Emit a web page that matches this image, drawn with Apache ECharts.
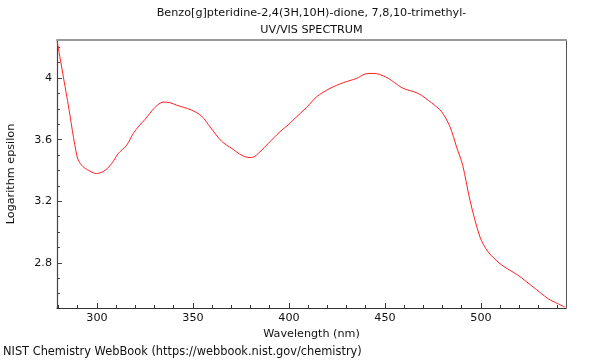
<!DOCTYPE html>
<html><head><meta charset="utf-8">
<script src="https://cdn.jsdelivr.net/npm/echarts@6/dist/echarts.min.js"></script>
<style>html,body{margin:0;padding:0;background:#fff}#c{width:600px;height:360px}</style>
</head><body><div id="c"></div>
<script>
const titleLines = ["Benzo[g]pteridine-2,4(3H,10H)-dione, 7,8,10-trimethyl-", "UV/VIS SPECTRUM"];
const xName = "Wavelength (nm)";
const yName = "Logarithm epsilon";
const footer = "NIST Chemistry WebBook (https://webbook.nist.gov/chemistry)";
const xMajorTicks = [300, 350, 400, 450, 500];
const xMinorTicks = [280, 290, 300, 310, 320, 330, 340, 350, 360, 370, 380, 390, 400, 410, 420, 430, 440, 450, 460, 470, 480, 490, 500, 510, 520, 530, 540];
const yMajorTicks = [2.8, 3.2, 3.6, 4];
const yMinorTicks = [2.6, 2.7, 2.8, 2.9, 3.0, 3.1, 3.2, 3.3, 3.4, 3.5, 3.6, 3.7, 3.8, 3.9, 4.0, 4.1, 4.2];
const wavelength = [279.3, 285, 289.7, 292, 295, 299.8, 304.2, 308, 311.1, 315.5, 318.9, 322, 325, 330.2, 334.5, 338, 341.5, 345, 349.3, 354.5, 358.9, 364.9, 370.2, 375.4, 379.2, 381.5, 384.9, 389.2, 395.3, 400, 403.1, 409.2, 414.4, 421.4, 428.3, 435.3, 439.6, 443.9, 447, 451.7, 455, 459.5, 467.3, 474.3, 479.5, 483.9, 487.3, 490.5, 494.3, 499.5, 503.8, 509.9, 514, 519.4, 527.2, 535.1, 540, 543.8];
const logEps = [4.236, 3.83, 3.488, 3.434, 3.405, 3.38, 3.40, 3.45, 3.51, 3.564, 3.64, 3.69, 3.731, 3.809, 3.844, 3.84, 3.824, 3.81, 3.792, 3.753, 3.683, 3.59, 3.543, 3.499, 3.484, 3.487, 3.521, 3.575, 3.651, 3.70, 3.738, 3.809, 3.878, 3.933, 3.970, 3.998, 4.026, 4.030, 4.025, 3.998, 3.97, 3.933, 3.900, 3.839, 3.781, 3.683, 3.553, 3.434, 3.206, 2.968, 2.870, 2.795, 2.76, 2.719, 2.643, 2.567, 2.535, 2.513];

const X_MIN = 279.2, X_MAX = 544.3, Y_MIN = 2.507, Y_MAX = 4.247;
const FONT = 'DejaVu Sans';
const FS = 11.2;
const chart = echarts.init(document.getElementById('c'), null, {renderer: 'canvas'});
const axisCommonX = {type: 'value', min: X_MIN, max: X_MAX, position: 'bottom', splitLine: {show: false}};
const axisCommonY = {type: 'value', min: Y_MIN, max: Y_MAX, position: 'left', splitLine: {show: false}};
chart.setOption({
  animation: false,
  backgroundColor: '#fff',
  grid: {left: 57, right: 34, top: 40, bottom: 52, show: false, containLabel: false, outerBoundsMode: 'none'},
  xAxis: [
    Object.assign({}, axisCommonX, {
      name: xName, nameLocation: 'middle', nameGap: 19,
      nameTextStyle: {fontFamily: FONT, fontSize: FS, color: '#111'},
      axisLine: {show: true, lineStyle: {color: '#333', width: 1.2}},
      axisTick: {show: true, inside: true, length: 5, customValues: xMajorTicks, lineStyle: {color: '#333'}},
      axisLabel: {show: true, customValues: xMajorTicks, fontFamily: FONT, fontSize: FS, color: '#111', margin: 5}
    }),
    Object.assign({}, axisCommonX, {
      axisLine: {show: false},
      axisTick: {show: true, inside: true, length: 3, customValues: xMinorTicks, lineStyle: {color: '#333'}},
      axisLabel: {show: false}
    }),
    Object.assign({}, axisCommonX, {
      position: 'top',
      axisLine: {show: true, lineStyle: {color: '#9a9a9a', width: 2}},
      axisTick: {show: false}, axisLabel: {show: false}
    })
  ],
  yAxis: [
    Object.assign({}, axisCommonY, {
      name: yName, nameLocation: 'middle', nameGap: 40, nameRotate: 90,
      nameTextStyle: {fontFamily: FONT, fontSize: FS, color: '#111'},
      axisLine: {show: true, lineStyle: {color: '#444', width: 1.2}},
      axisTick: {show: true, inside: true, length: 5, customValues: yMajorTicks, lineStyle: {color: '#444'}},
      axisLabel: {show: true, customValues: yMajorTicks, fontFamily: FONT, fontSize: FS, color: '#111', margin: 5, formatter: v => String(Math.round(v * 10) / 10)}
    }),
    Object.assign({}, axisCommonY, {
      axisLine: {show: false},
      axisTick: {show: true, inside: true, length: 3, customValues: yMinorTicks, lineStyle: {color: '#444'}},
      axisLabel: {show: false}
    }),
    Object.assign({}, axisCommonY, {
      position: 'right',
      axisLine: {show: true, lineStyle: {color: '#555', width: 1}},
      axisTick: {show: false}, axisLabel: {show: false}
    })
  ],
  series: [{
    type: 'line', xAxisIndex: 0, yAxisIndex: 0,
    data: wavelength.map((w, i) => [w, logEps[i]]),
    showSymbol: false, smooth: 0.3,
    lineStyle: {color: '#ff2020', width: 1},
    clip: true
  }],
  graphic: [
    {type: 'text', x: 311.5, y: 13, style: {text: titleLines[0], x: 0, y: 0, align: 'center', verticalAlign: 'middle', font: FS + 'px "DejaVu Sans"', fill: '#111'}},
    {type: 'text', x: 311.5, y: 30, style: {text: titleLines[1], x: 0, y: 0, align: 'center', verticalAlign: 'middle', font: FS + 'px "DejaVu Sans"', fill: '#111'}},
    {type: 'text', x: 3, y: 352, style: {text: footer, x: 0, y: 0, align: 'left', verticalAlign: 'middle', font: '11.4px "DejaVu Sans"', fill: '#111'}}
  ]
});
</script></body></html>
